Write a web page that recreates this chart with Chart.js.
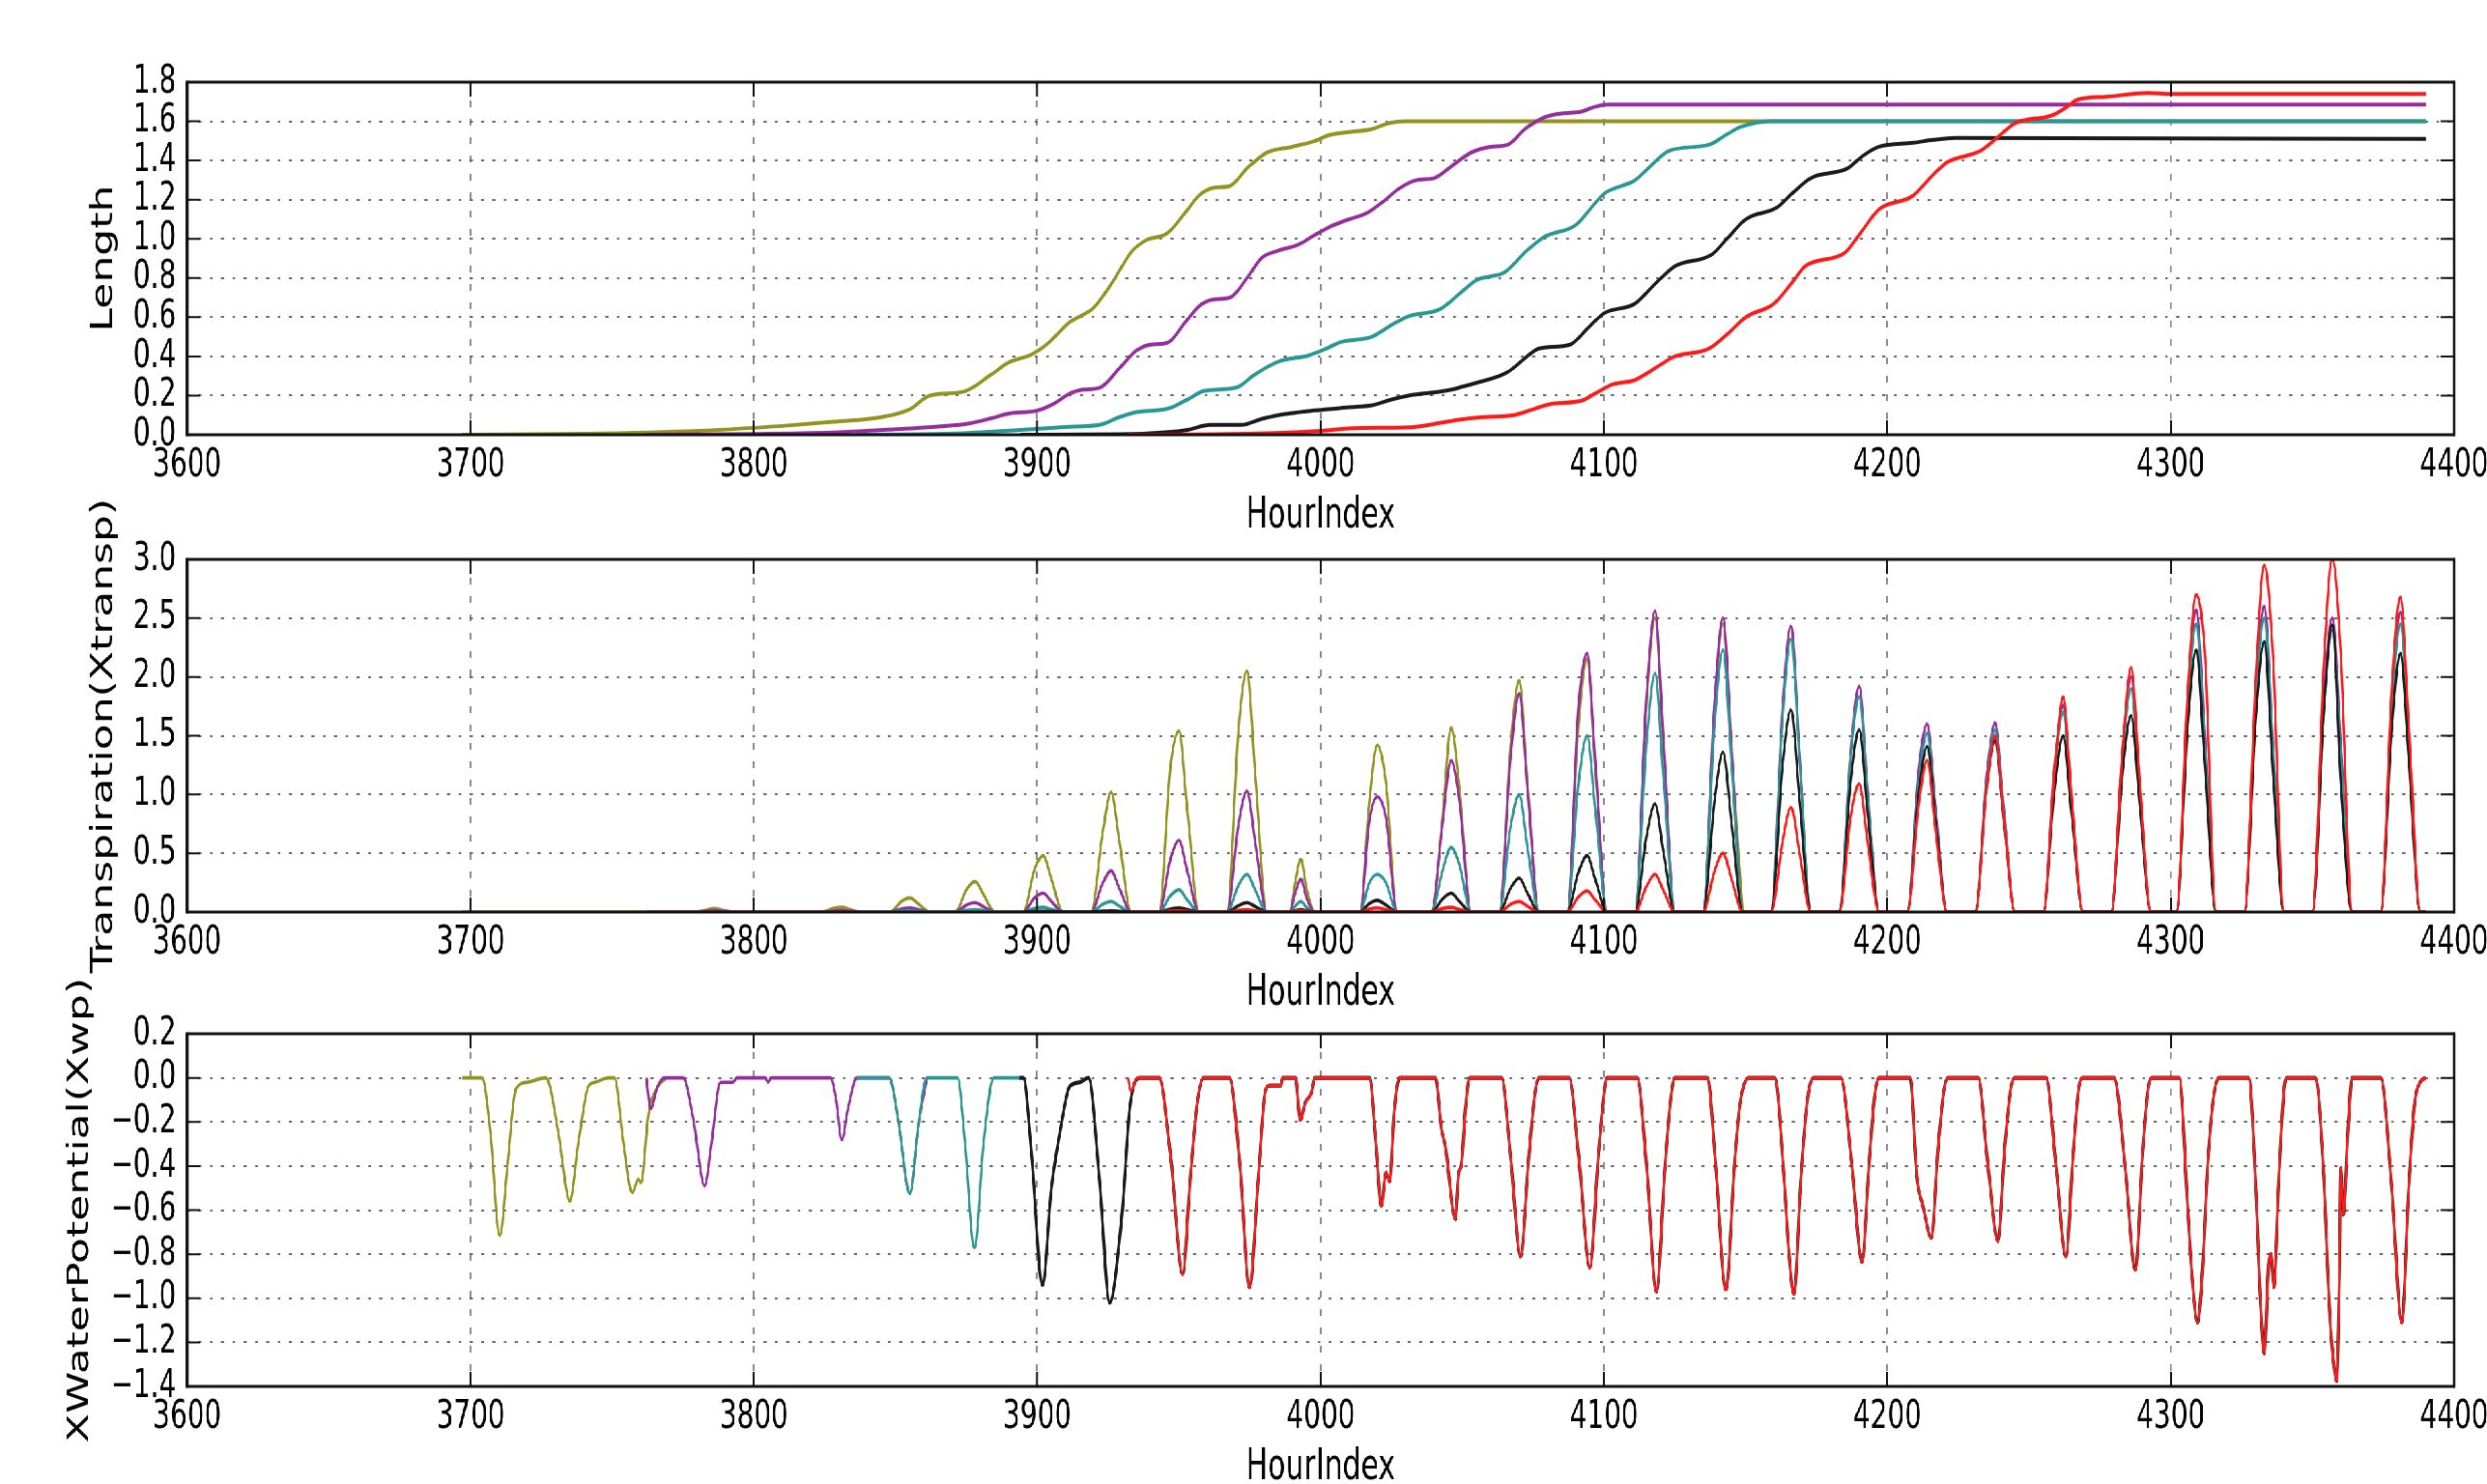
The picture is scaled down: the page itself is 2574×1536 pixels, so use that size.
<!DOCTYPE html>
<html>
<head>
<meta charset="utf-8">
<script src="https://cdn.jsdelivr.net/npm/chart.js@4.4.1/dist/chart.umd.min.js"></script>
<style>
  html, body { margin: 0; padding: 0; background: #fff; overflow: hidden; }
  #wrap { position: relative; width: 3785px; height: 1536px; transform: scale(0.68005, 1); transform-origin: 0 0; }
  #wrap canvas { position: absolute; left: 0; }
</style>
</head>
<body>
<div id="wrap">
  <canvas id="lengthChart" width="3785" height="575" style="top:-5px"></canvas>
  <canvas id="transpChart" width="3785" height="575" style="top:489px"></canvas>
  <canvas id="wpChart" width="3785" height="575" style="top:980px"></canvas>
</div>
<script>
// ---- Length, [hour, value] per plant ----
var lenOlive = [[3697,0],[3740,0.005],[3780,0.02],[3810,0.045],[3828,0.066],[3845,0.09],[3855,0.13],[3862,0.2],[3874,0.22],[3884,0.31],[3890,0.37],[3898,0.41],[3904,0.47],[3911,0.57],[3920,0.65],[3927,0.79],[3933,0.93],[3938,0.99],[3946,1.03],[3952,1.13],[3957,1.22],[3962,1.26],[3968,1.27],[3974,1.36],[3981,1.44],[3990,1.47],[3998,1.5],[4003,1.53],[4010,1.545],[4018,1.56],[4024,1.59],[4030,1.6],[4390,1.6]];
var lenPurple = [[3762,0],[3800,0.004],[3830,0.012],[3850,0.028],[3865,0.042],[3876,0.058],[3884,0.085],[3890,0.108],[3900,0.124],[3906,0.16],[3911,0.207],[3916,0.23],[3922,0.24],[3929,0.34],[3935,0.43],[3940,0.46],[3946,0.47],[3952,0.57],[3957,0.655],[3962,0.69],[3968,0.7],[3974,0.8],[3979,0.9],[3985,0.94],[3992,0.97],[3998,1.02],[4003,1.06],[4010,1.1],[4016,1.13],[4022,1.19],[4028,1.26],[4034,1.3],[4040,1.31],[4047,1.38],[4053,1.44],[4060,1.47],[4066,1.48],[4072,1.56],[4079,1.62],[4085,1.64],[4092,1.65],[4097,1.675],[4101,1.685],[4390,1.685]];
var lenTeal = [[3836,0],[3870,0.006],[3894,0.025],[3910,0.04],[3922,0.05],[3929,0.09],[3935,0.116],[3946,0.133],[3953,0.18],[3959,0.224],[3970,0.24],[3977,0.31],[3985,0.373],[3996,0.406],[4002,0.44],[4007,0.473],[4018,0.5],[4025,0.56],[4031,0.605],[4042,0.64],[4049,0.72],[4055,0.79],[4065,0.83],[4072,0.93],[4079,1.01],[4090,1.07],[4095,1.15],[4100,1.23],[4111,1.3],[4117,1.38],[4123,1.45],[4137,1.48],[4143,1.53],[4148,1.57],[4159,1.6],[4390,1.6]];
var lenBlack = [[3894,0],[3929,0.002],[3945,0.012],[3953,0.025],[3961,0.05],[3972,0.05],[3979,0.08],[3985,0.1],[3998,0.124],[4010,0.14],[4018,0.15],[4025,0.18],[4031,0.2],[4044,0.224],[4050,0.245],[4055,0.265],[4066,0.32],[4072,0.39],[4077,0.44],[4088,0.46],[4094,0.54],[4100,0.62],[4111,0.67],[4118,0.77],[4125,0.86],[4138,0.92],[4144,1.01],[4150,1.1],[4161,1.16],[4167,1.24],[4173,1.31],[4186,1.36],[4191,1.42],[4197,1.47],[4209,1.49],[4216,1.505],[4224,1.515],[4390,1.51]];
var lenRed = [[3932,0],[3981,0.008],[4000,0.02],[4011,0.033],[4033,0.04],[4042,0.06],[4048,0.075],[4057,0.09],[4068,0.1],[4075,0.13],[4081,0.157],[4092,0.174],[4098,0.22],[4103,0.257],[4111,0.28],[4118,0.34],[4125,0.4],[4137,0.44],[4144,0.52],[4150,0.6],[4160,0.67],[4166,0.77],[4171,0.86],[4185,0.93],[4191,1.04],[4197,1.15],[4209,1.22],[4215,1.31],[4221,1.39],[4233,1.45],[4239,1.52],[4245,1.59],[4258,1.63],[4263,1.67],[4267,1.71],[4277,1.725],[4292,1.745],[4300,1.74],[4390,1.74]];

// ---- Transpiration, one row per day (dawn, morning, noon peak, afternoon, dusk) ----
var transpHours = [3697, 3762,
  3779, 3783, 3786, 3789, 3793,
  3824, 3828, 3831, 3834, 3838,
  3848, 3852, 3855, 3858, 3862,
  3871, 3875, 3878, 3881, 3885,
  3895, 3899, 3902, 3905, 3909,
  3919, 3923, 3926, 3929, 3933,
  3943, 3947, 3950, 3953, 3957,
  3967, 3971, 3974, 3977, 3981,
  3989, 3991, 3993, 3995, 3998,
  4014, 4017, 4020, 4023, 4027,
  4039, 4043, 4046, 4049, 4053,
  4063, 4067, 4070, 4073, 4077,
  4087, 4091, 4094, 4097, 4101,
  4111, 4115, 4118, 4121, 4125,
  4135, 4139, 4142, 4145, 4149,
  4159, 4163, 4166, 4169, 4173,
  4183, 4187, 4190, 4193, 4197,
  4207, 4211, 4214, 4217, 4221,
  4231, 4235, 4238, 4241, 4245,
  4255, 4259, 4262, 4265, 4269,
  4279, 4283, 4286, 4289, 4293,
  4302, 4306, 4309, 4312, 4316,
  4326, 4330, 4333, 4336, 4340,
  4350, 4354, 4357, 4360, 4364,
  4374, 4378, 4381, 4384, 4388,
  4390];

var transpOlive = [0, 0,
  0, 0.015, 0.03, 0.015, 0,
  0, 0.03, 0.04, 0.02, 0,
  0, 0.09, 0.12, 0.07, 0,
  0, 0.19, 0.26, 0.15, 0,
  0, 0.36, 0.48, 0.28, 0,
  0, 0.66, 1.02, 0.6, 0,
  0, 1.24, 1.54, 0.85, 0,
  0, 1.56, 2.05, 1.13, 0,
  0, 0.25, 0.45, 0.2, 0,
  0, 0.9, 1.42, 1.1, 0,
  0, 0.8, 1.57, 1.05, 0,
  0, 1.4, 1.97, 1.1, 0,
  0, 1.6, 2.15, 1.2, 0,
  0, 1.8, 2.5, 1.4, 0,
  0, 1.75, 2.45, 1.35, 0];

var transpPurple = [null, 0,
  0, 0.005, 0.01, 0.005, 0,
  0, 0.008, 0.012, 0.006, 0,
  0, 0.025, 0.035, 0.02, 0,
  0, 0.06, 0.08, 0.045, 0,
  0, 0.12, 0.16, 0.09, 0,
  0, 0.24, 0.35, 0.2, 0,
  0, 0.45, 0.61, 0.34, 0,
  0, 0.75, 1.03, 0.57, 0,
  0, 0.16, 0.28, 0.12, 0,
  0, 0.75, 0.98, 0.8, 0,
  0, 0.75, 1.29, 0.94, 0,
  0, 1.3, 1.86, 1.05, 0,
  0, 1.75, 2.2, 1.25, 0,
  0, 1.85, 2.56, 1.45, 0,
  0, 1.8, 2.5, 1.4, 0,
  0, 1.75, 2.43, 1.35, 0,
  0, 1.35, 1.92, 1.05, 0,
  0, 1.2, 1.6, 0.9, 0,
  0, 1.15, 1.61, 0.9, 0,
  0, 1.25, 1.76, 0.97, 0,
  0, 1.4, 2.0, 1.1, 0,
  0, 1.8, 2.57, 1.5, 0,
  0, 1.85, 2.6, 1.45, 0,
  0, 1.8, 2.5, 1.45, 0,
  0, 1.8, 2.55, 1.55, 0,
  0];

var transpTeal = [null, null,
  null, null, null, null, null,
  null, null, null, null, 0,
  0, 0.007, 0.01, 0.006, 0,
  0, 0.015, 0.02, 0.012, 0,
  0, 0.03, 0.04, 0.022, 0,
  0, 0.065, 0.09, 0.05, 0,
  0, 0.14, 0.19, 0.1, 0,
  0, 0.23, 0.32, 0.18, 0,
  0, 0.05, 0.09, 0.04, 0,
  0, 0.24, 0.32, 0.25, 0,
  0, 0.35, 0.55, 0.4, 0,
  0, 0.72, 1.0, 0.55, 0,
  0, 1.1, 1.5, 0.85, 0,
  0, 1.45, 2.03, 1.12, 0,
  0, 1.6, 2.23, 1.25, 0,
  0, 1.65, 2.32, 1.3, 0,
  0, 1.3, 1.83, 1.0, 0,
  0, 1.1, 1.52, 0.85, 0,
  0, 1.1, 1.55, 0.86, 0,
  0, 1.2, 1.7, 0.94, 0,
  0, 1.35, 1.9, 1.05, 0,
  0, 1.75, 2.45, 1.4, 0,
  0, 1.8, 2.5, 1.4, 0,
  0, 1.7, 2.4, 1.35, 0,
  0, 1.75, 2.45, 1.5, 0,
  0];

var transpBlack = [null, null,
  null, null, null, null, null,
  null, null, null, null, null,
  null, null, null, null, null,
  null, null, null, null, null,
  0, 0.003, 0.005, 0.003, 0,
  0, 0.007, 0.01, 0.006, 0,
  0, 0.025, 0.035, 0.02, 0,
  0, 0.055, 0.08, 0.045, 0,
  0, 0.01, 0.02, 0.01, 0,
  0, 0.07, 0.1, 0.06, 0,
  0, 0.11, 0.16, 0.09, 0,
  0, 0.2, 0.29, 0.16, 0,
  0, 0.34, 0.48, 0.27, 0,
  0, 0.65, 0.92, 0.5, 0,
  0, 0.95, 1.36, 0.75, 0,
  0, 1.25, 1.72, 0.95, 0,
  0, 1.1, 1.55, 0.85, 0,
  0, 1.0, 1.41, 0.78, 0,
  0, 1.05, 1.46, 0.8, 0,
  0, 1.05, 1.5, 0.83, 0,
  0, 1.2, 1.67, 0.92, 0,
  0, 1.6, 2.23, 1.25, 0,
  0, 1.65, 2.3, 1.2, 0,
  0, 1.7, 2.44, 1.1, 0,
  0, 1.55, 2.2, 1.3, 0,
  0];

var transpRed = [null, null,
  null, null, null, null, null,
  null, null, null, null, null,
  null, null, null, null, null,
  null, null, null, null, null,
  null, null, null, null, null,
  null, null, null, null, 0,
  0, 0.007, 0.01, 0.005, 0,
  0, 0.014, 0.02, 0.01, 0,
  0, 0.005, 0.01, 0.005, 0,
  0, 0.025, 0.035, 0.02, 0,
  0, 0.03, 0.04, 0.022, 0,
  0, 0.065, 0.09, 0.05, 0,
  0, 0.13, 0.18, 0.1, 0,
  0, 0.22, 0.32, 0.18, 0,
  0, 0.35, 0.5, 0.28, 0,
  0, 0.6, 0.89, 0.5, 0,
  0, 0.8, 1.09, 0.6, 0,
  0, 0.9, 1.29, 0.7, 0,
  0, 1.05, 1.5, 0.82, 0,
  0, 1.2, 1.83, 0.97, 0,
  0, 1.4, 2.08, 1.12, 0,
  0, 1.9, 2.7, 2.2, 0,
  0, 2.0, 2.95, 2.2, 0,
  0, 2.1, 3.0, 2.2, 0,
  0, 1.9, 2.68, 1.6, 0,
  0];

// ---- Water potential, [hour, value] ----
var wpOlive = [[3697,0],[3704,0],[3707,-0.25],[3710.3,-0.715],[3713,-0.4],[3716,-0.05],[3720,-0.02],[3726.6,0],[3731,-0.25],[3735,-0.56],[3738,-0.3],[3741.5,-0.04],[3744,-0.02],[3748.6,0],[3750.7,0],[3754,-0.3],[3757,-0.52],[3759.2,-0.46],[3760,-0.475],[3760.6,-0.46],[3762.7,-0.17],[3765.6,-0.05],[3769,0]];
var wpPurple = [[3762,0],[3763.5,-0.14],[3766,-0.04],[3768.5,0],[3775,0],[3778.5,-0.18],[3782.6,-0.49],[3785,-0.3],[3787.5,-0.04],[3788.5,-0.02],[3792.5,-0.02],[3794,0],[3804,0],[3805,-0.02],[3806,0],[3827,0],[3829,-0.1],[3831,-0.28],[3833,-0.15],[3836.4,0],[3847.7,0],[3851,-0.2],[3855,-0.525],[3858,-0.22],[3861,0]];
var wpTeal = [[3836.4,0],[3847.7,0],[3851,-0.2],[3855,-0.525],[3858,-0.22],[3861,0],[3871.8,0],[3874.5,-0.3],[3877.8,-0.77],[3881,-0.3],[3884.6,0],[3894,0]];
var wpBlackEarly = [[3893.8,0],[3895,0],[3898,-0.35],[3901.8,-0.94],[3905,-0.5],[3908.6,-0.2],[3911.4,-0.04],[3915,-0.02],[3918,0],[3922,-0.47],[3925.5,-1.02],[3929.8,-0.63],[3932.6,-0.14],[3936,0]];
var wpRed = [[3932,0],[3933,-0.06],[3935.4,0],[3943,0],[3947,-0.35],[3951.3,-0.89],[3954,-0.45],[3956.5,-0.11],[3958.7,0],[3967.8,0],[3971.5,-0.4],[3974.9,-0.95],[3978,-0.45],[3980.5,-0.06],[3982,-0.035],[3986,-0.035],[3986.6,0],[3991.1,0],[3992.8,-0.19],[3994.6,-0.11],[3996.7,-0.07],[3998,0],[4017.2,0],[4019.5,-0.3],[4021.4,-0.58],[4023,-0.43],[4024.3,-0.47],[4026,-0.15],[4027.8,0],[4040.5,0],[4042.6,-0.23],[4044,-0.31],[4047.5,-0.64],[4048.7,-0.43],[4049.6,-0.4],[4051,-0.15],[4052.5,0],[4063.8,0],[4067,-0.35],[4070.5,-0.81],[4073.5,-0.35],[4075.5,-0.08],[4077,0],[4087.7,0],[4091,-0.35],[4095,-0.86],[4098,-0.35],[4100,-0.07],[4101,0],[4111.7,0],[4115,-0.4],[4118.5,-0.97],[4121.5,-0.4],[4123.5,-0.1],[4125,0],[4136.5,0],[4139.4,-0.4],[4143,-0.96],[4146,-0.4],[4148,-0.12],[4151,0],[4160.2,0],[4163.5,-0.45],[4165.2,-0.78],[4167,-0.98],[4169.5,-0.45],[4172,-0.08],[4174,0],[4183.5,0],[4187.5,-0.4],[4191,-0.835],[4193.5,-0.4],[4195.5,-0.08],[4197,0],[4208,0],[4210.4,-0.45],[4212.5,-0.58],[4215.5,-0.725],[4218,-0.3],[4220,-0.05],[4221.5,0],[4232,0],[4235.5,-0.4],[4239,-0.74],[4241.5,-0.3],[4243.5,-0.05],[4245,0],[4256,0],[4259.5,-0.4],[4263,-0.81],[4265.5,-0.35],[4267.5,-0.05],[4269,0],[4280,0],[4284,-0.42],[4287.5,-0.87],[4290,-0.35],[4292,-0.05],[4293.5,0],[4303,0],[4306,-0.6],[4307.5,-0.9],[4309.5,-1.11],[4311,-0.91],[4313,-0.4],[4315,-0.1],[4317,0],[4327.5,0],[4330,-0.5],[4331.6,-1.0],[4333,-1.25],[4334.5,-0.85],[4335.4,-0.8],[4336.4,-0.95],[4338,-0.5],[4340,-0.05],[4341,0],[4351,0],[4354,-0.45],[4355.5,-0.9],[4356.5,-1.15],[4357.3,-1.27],[4358.5,-1.375],[4359.5,-0.9],[4360,-0.41],[4361,-0.62],[4362.5,-0.25],[4364,0],[4374,0],[4378,-0.5],[4381.5,-1.11],[4384,-0.5],[4386,-0.12],[4388,-0.02],[4390,0]];

var seriesColors = ['#939320', '#962d9f', '#2b9696', '#1a1a1a', '#ff1a1a'];
var tickFont = { family: 'DejaVu Sans', size: 41 };
var titleFont = { family: 'DejaVu Sans', size: 44 };

function toPoints(pairs) {
  return pairs.map(function (p) { return { x: p[0], y: p[1] }; });
}

function fromHours(hours, vals) {
  return hours.map(function (h, i) { return { x: h, y: vals[i] === undefined ? null : vals[i] }; });
}

function fmtTick(v) {
  if (Math.abs(v) < 1e-9) return '0.0';
  return (v < 0 ? '\u2212' : '') + Math.abs(v).toFixed(1);
}

// box around the plot area with inward ticks on every side
var framePlugin = {
  id: 'axesFrame',
  afterDraw: function (chart) {
    var ctx = chart.ctx, a = chart.chartArea, xs = chart.scales.x, ys = chart.scales.y;
    ctx.save();
    ctx.setLineDash([]);
    ctx.strokeStyle = '#111';
    ctx.lineWidth = 3;
    ctx.beginPath();
    xs.ticks.forEach(function (t) {
      var px = xs.getPixelForValue(t.value);
      ctx.moveTo(px, a.bottom); ctx.lineTo(px, a.bottom - 15);
      ctx.moveTo(px, a.top); ctx.lineTo(px, a.top + 15);
    });
    ctx.stroke();
    ctx.lineWidth = 2;
    ctx.beginPath();
    ys.ticks.forEach(function (t) {
      var py = ys.getPixelForValue(t.value);
      ctx.moveTo(a.left, py); ctx.lineTo(a.left + 20, py);
      ctx.moveTo(a.right, py); ctx.lineTo(a.right - 20, py);
    });
    ctx.stroke();
    ctx.lineWidth = 3;
    ctx.beginPath();
    ctx.moveTo(a.left, a.top); ctx.lineTo(a.right, a.top);
    ctx.moveTo(a.left, a.bottom); ctx.lineTo(a.right, a.bottom);
    ctx.stroke();
    ctx.lineWidth = 4.5;
    ctx.beginPath();
    ctx.moveTo(a.left, a.top - 1.5); ctx.lineTo(a.left, a.bottom + 1.5);
    ctx.moveTo(a.right, a.top - 1.5); ctx.lineTo(a.right, a.bottom + 1.5);
    ctx.stroke();
    ctx.restore();
  }
};

function makeChart(id, series, opts) {
  return new Chart(document.getElementById(id), {
    type: 'line',
    data: {
      datasets: series.map(function (d, i) {
        return {
          data: d,
          borderColor: seriesColors[i],
          borderWidth: opts.widths[i],
          pointRadius: 0,
          fill: false,
          spanGaps: false,
          cubicInterpolationMode: 'monotone',
          order: 4 - i
        };
      })
    },
    options: {
      responsive: false,
      animation: false,
      devicePixelRatio: 1,
      events: [],
      layout: { padding: { top: 90, right: 50, bottom: 0, left: 0 } },
      plugins: { legend: { display: false }, tooltip: { enabled: false } },
      scales: {
        x: {
          type: 'linear', min: 3600, max: 4400,
          ticks: { stepSize: 100, autoSkip: false, maxRotation: 0, padding: 8, color: '#000', font: tickFont,
                   callback: function (v) { return String(v); } },
          grid: { color: '#8a8a8a', lineWidth: 2.6, drawTicks: false },
          border: { display: false, dash: [7, 12] },
          title: { display: true, text: 'HourIndex', color: '#000', font: titleFont, padding: { top: 0, bottom: 9 } },
          afterFit: function (s) { s.height = 120; s.paddingLeft = 0; s.paddingRight = 0; }
        },
        y: {
          min: opts.min, max: opts.max,
          ticks: { stepSize: opts.step, autoSkip: false, padding: 17, color: '#000', font: tickFont, callback: fmtTick },
          grid: { color: '#666', lineWidth: 2, drawTicks: false },
          border: { display: false, dash: [4.4, 12.8] },
          title: { display: true, text: opts.label, color: '#000', font: titleFont, padding: { top: opts.titlePad, bottom: 0 } },
          afterFit: function (s) { s.width = 285; s.paddingTop = 0; s.paddingBottom = 0; }
        }
      }
    },
    plugins: [framePlugin]
  });
}

makeChart('lengthChart',
  [toPoints(lenOlive), toPoints(lenPurple), toPoints(lenTeal), toPoints(lenBlack), toPoints(lenRed)],
  { min: 0, max: 1.8, step: 0.2, label: 'Length', titlePad: 132, widths: [4, 4, 4, 4, 4] });

makeChart('transpChart',
  [fromHours(transpHours, transpOlive), fromHours(transpHours, transpPurple), fromHours(transpHours, transpTeal),
   fromHours(transpHours, transpBlack), fromHours(transpHours, transpRed)],
  { min: 0, max: 3, step: 0.5, label: 'Transpiration(Xtransp)', titlePad: 132, widths: [3.6, 3.6, 3.6, 3.6, 3.6] });

// black sits under red from the first red day on
var wpBlack = wpBlackEarly.concat(wpRed.filter(function (p) { return p[0] > 3936; }));

makeChart('wpChart',
  [toPoints(wpOlive), toPoints(wpPurple), toPoints(wpTeal), toPoints(wpBlack), toPoints(wpRed)],
  { min: -1.4, max: 0.2, step: 0.2, label: 'XWaterPotential(Xwp)', titlePad: 96, widths: [3.6, 3.6, 3.6, 4.4, 3.4] });
</script>
</body>
</html>
